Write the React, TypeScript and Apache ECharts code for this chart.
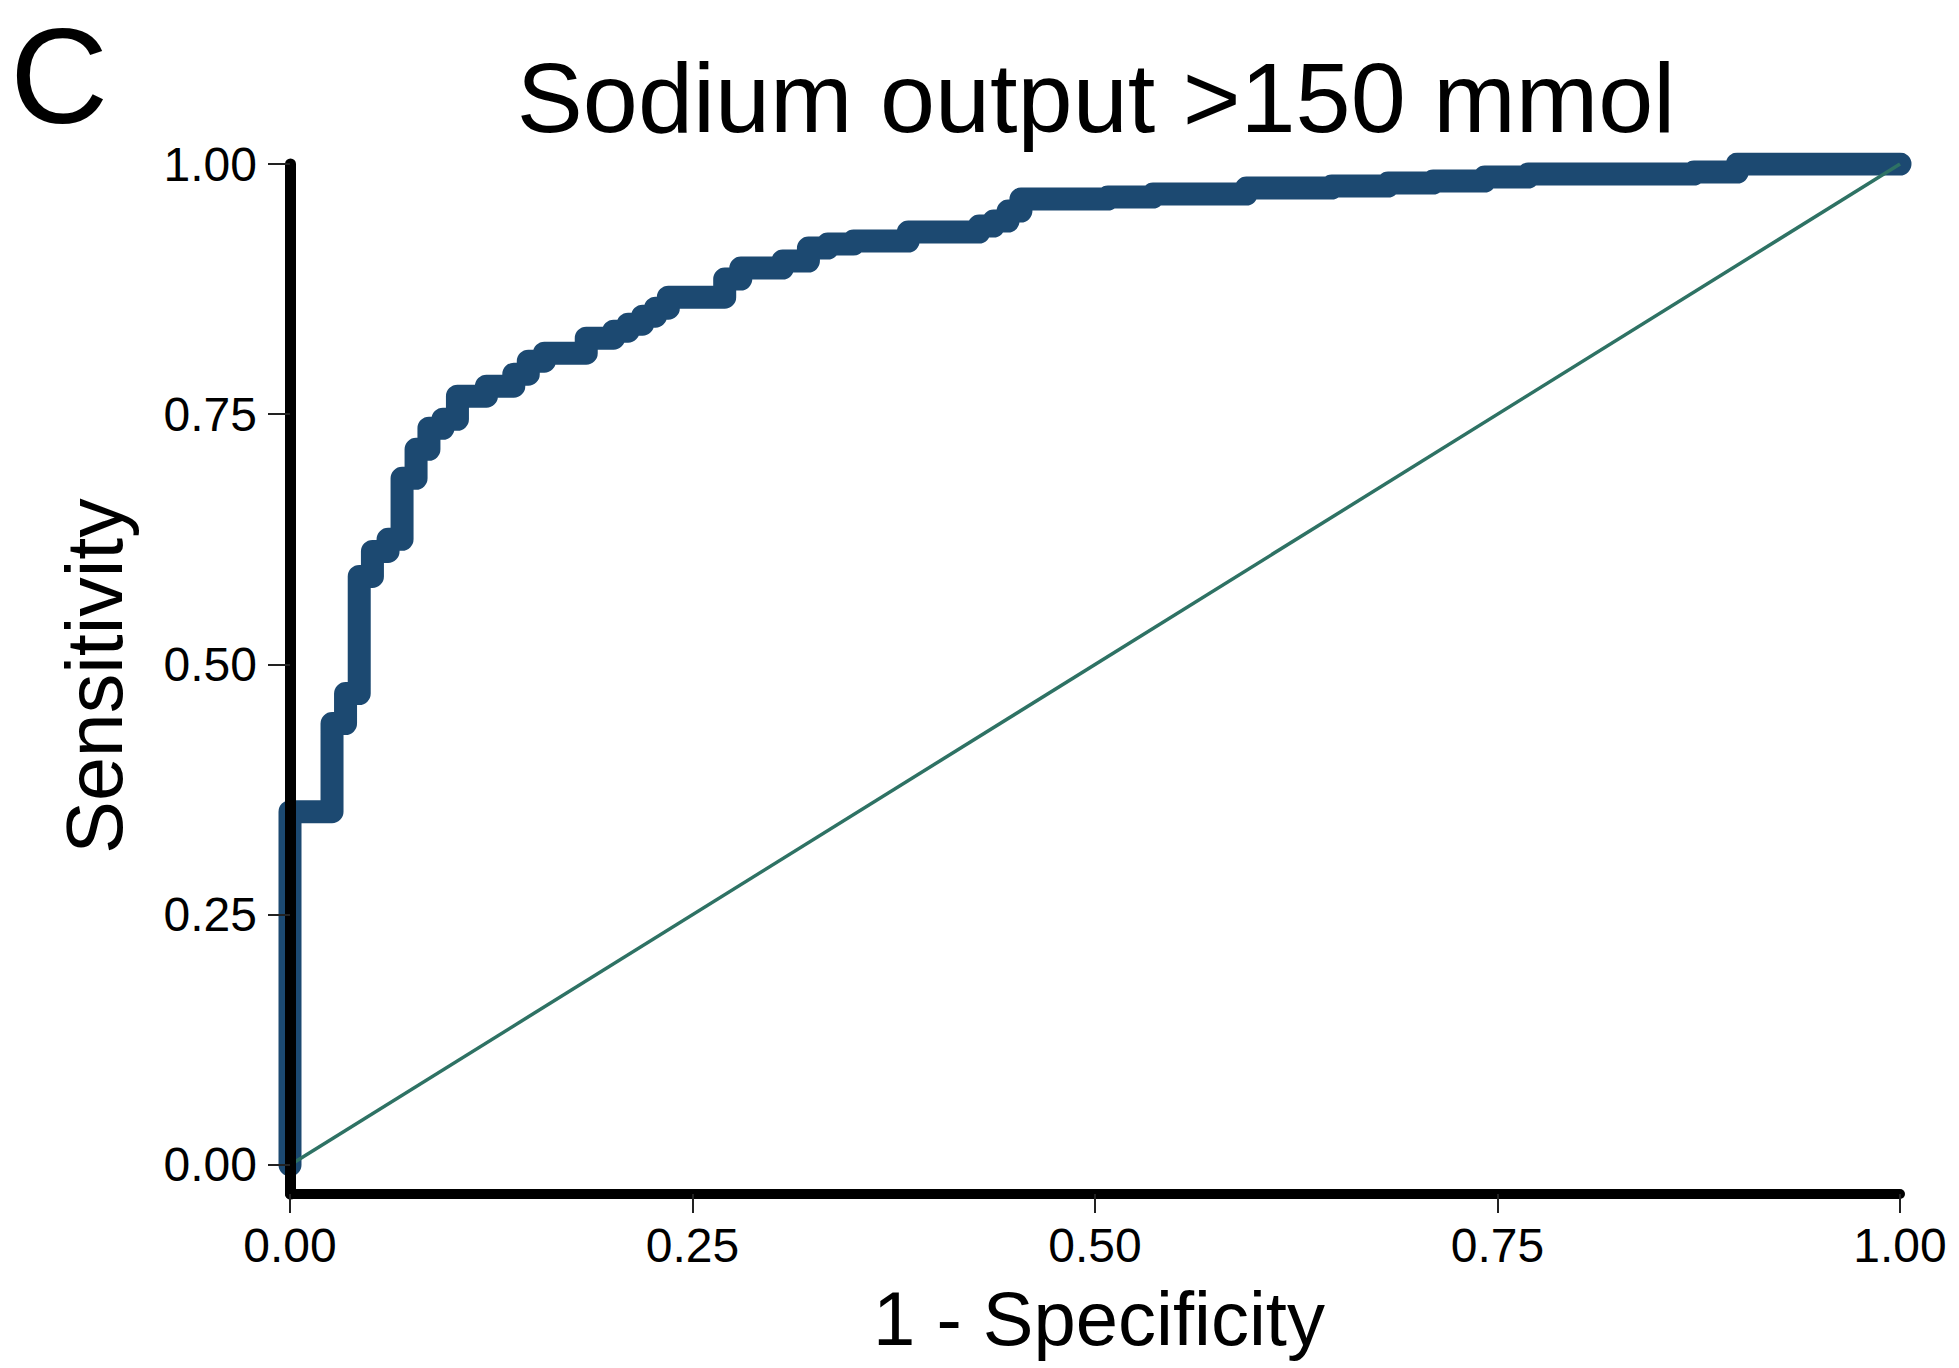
import React, { useEffect, useRef } from "react";
import * as echarts from "echarts";

// ROC step vertices (1 - specificity, sensitivity)
const fpr = [
  0, 0, 0.0261, 0.0345, 0.043, 0.0512, 0.0609, 0.0696, 0.0783, 0.0863, 0.095,
  0.104, 0.122, 0.139, 0.148, 0.158, 0.184, 0.201, 0.21, 0.219, 0.227, 0.235,
  0.27, 0.28, 0.306, 0.322, 0.334, 0.35, 0.384, 0.428, 0.437, 0.446, 0.454,
  0.508, 0.536, 0.594, 0.647, 0.682, 0.71, 0.742, 0.769, 0.872, 0.899, 1.0,
];
const tpr = [
  0, 0.353, 0.441, 0.471, 0.588, 0.613, 0.625, 0.686, 0.715, 0.736, 0.745,
  0.768, 0.778, 0.79, 0.803, 0.811, 0.826, 0.833, 0.84, 0.848, 0.856, 0.867,
  0.885, 0.896, 0.903, 0.916, 0.92, 0.923, 0.932, 0.938, 0.943, 0.953, 0.965,
  0.967, 0.97, 0.976, 0.978, 0.981, 0.983, 0.987, 0.99, 0.992, 1.0, 1.0,
];
const refX = [0, 1];
const refY = [0, 1];
const xTicks = [0, 0.25, 0.5, 0.75, 1];
const yTicks = [0, 0.25, 0.5, 0.75, 1];

const panelLetter = "C";
const chartTitle = "Sodium output >150 mmol";
const xTitle = "1 - Specificity";
const yTitle = "Sensitivity";

const FONT = "'Liberation Sans', Arial, sans-serif";

export default function App() {
  const ref = useRef<HTMLDivElement | null>(null);

  useEffect(() => {
    if (!ref.current) return;
    const chart = echarts.init(ref.current, undefined, { renderer: "svg" });
    const roc = fpr.map((x, i) => [x, tpr[i]]);
    const diag = refX.map((x, i) => [x, refY[i]]);
    const option: any = {
      animation: false,
      backgroundColor: "#ffffff",
      grid: {
        left: 290,
        right: 59,
        top: 164,
        bottom: 174,
        containLabel: false,
        outerBoundsMode: "none",
      },
      xAxis: {
        type: "value",
        min: 0,
        max: 1,
        interval: 0.25,
        z: 10,
        axisLine: { show: true, onZero: false, lineStyle: { color: "#000", width: 10 } },
        axisTick: {
          show: true,
          length: 19,
          customValues: xTicks,
          lineStyle: { color: "#222", width: 2 },
        },
        axisLabel: {
          show: true,
          margin: 27,
          fontSize: 48,
          color: "#000",
          fontFamily: FONT,
          customValues: xTicks,
          formatter: (v: number) => v.toFixed(2),
        },
        splitLine: { show: false },
      },
      yAxis: {
        type: "value",
        min: -0.029,
        max: 1,
        z: 10,
        axisLine: { show: true, onZero: false, lineStyle: { color: "#000", width: 11 } },
        axisTick: {
          show: true,
          length: 22,
          customValues: yTicks,
          lineStyle: { color: "#222", width: 2 },
        },
        axisLabel: {
          show: true,
          margin: 33,
          fontSize: 48,
          color: "#000",
          fontFamily: FONT,
          customValues: yTicks,
          formatter: (v: number) => v.toFixed(2),
        },
        splitLine: { show: false },
      },
      series: [
        {
          type: "line",
          name: "ROC",
          data: roc,
          step: "end",
          showSymbol: false,
          lineStyle: { color: "#1c4971", width: 23, cap: "round", join: "round" },
          z: 2,
        },
        {
          type: "line",
          name: "Reference",
          data: diag,
          showSymbol: false,
          lineStyle: { color: "#2e7264", width: 3.5 },
          z: 3,
        },
      ],
      graphic: [
        {
          type: "text",
          x: 10,
          y: 76,
          style: {
            text: panelLetter,
            fontSize: 136,
            lineHeight: 116,
            fontFamily: FONT,
            fill: "#000",
            textAlign: "left",
            textVerticalAlign: "middle",
          },
        },
        {
          type: "text",
          x: 1096,
          y: 97,
          style: {
            text: chartTitle,
            fontSize: 99,
            fontFamily: FONT,
            fill: "#000",
            textAlign: "center",
            textVerticalAlign: "middle",
          },
        },
        {
          type: "text",
          x: 1099,
          y: 1318,
          style: {
            text: xTitle,
            fontSize: 76,
            lineHeight: 58,
            fontFamily: FONT,
            fill: "#000",
            textAlign: "center",
            textVerticalAlign: "middle",
          },
        },
        {
          type: "text",
          x: 94,
          y: 676,
          rotation: Math.PI / 2,
          style: {
            text: yTitle,
            fontSize: 79,
            fontFamily: FONT,
            fill: "#000",
            textAlign: "center",
            textVerticalAlign: "middle",
          },
        },
      ],
    };
    chart.setOption(option);
    return () => chart.dispose();
  }, []);

  return (
    <div
      ref={ref}
      style={{ position: "fixed", left: 0, top: 0, width: 1959, height: 1368, background: "#fff" }}
    />
  );
}
